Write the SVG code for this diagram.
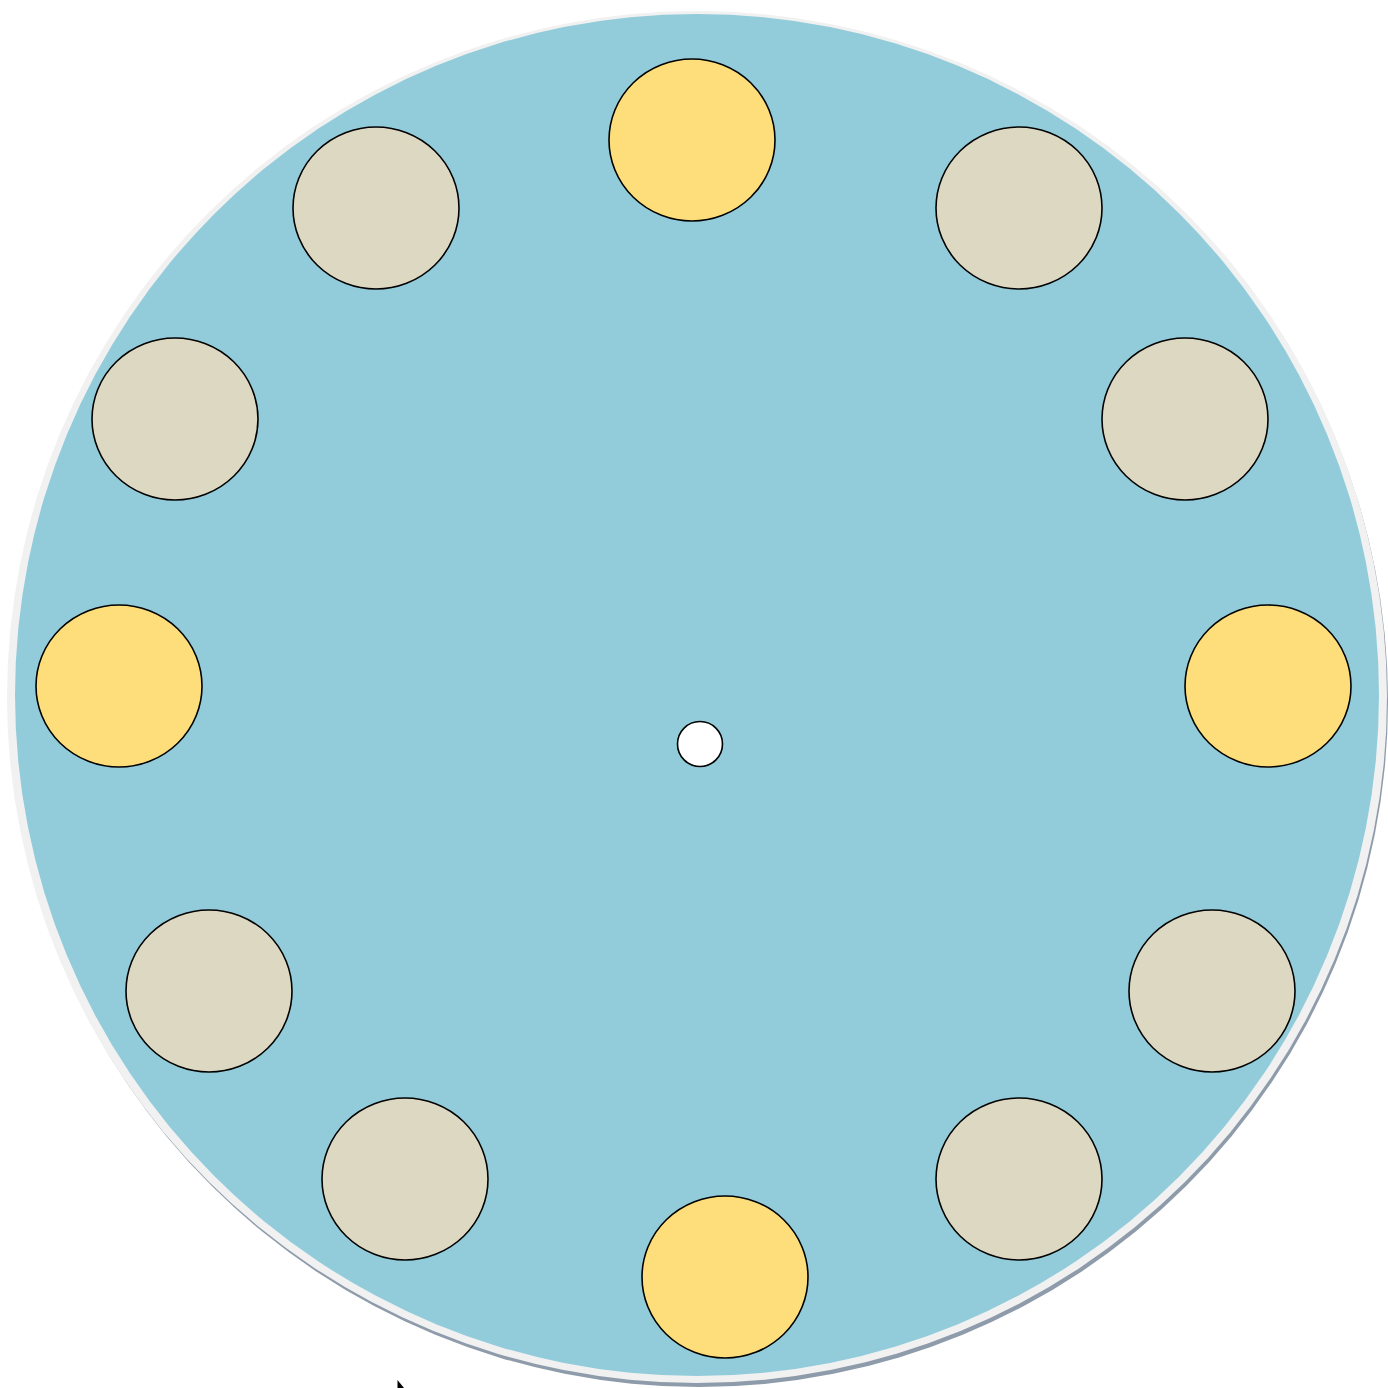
<svg xmlns="http://www.w3.org/2000/svg" width="1388" height="1388" viewBox="0 0 1388 1388">
<style>
.n{stroke:#000;stroke-width:1.6}
.y{fill:#FDDE7A}
.b{fill:#DDD8C2}
</style>
<rect width="1388" height="1388" fill="#fff"/>
<g id="plate">
<ellipse cx="699" cy="701" rx="689" ry="686" fill="#8E9BAA"/>
<ellipse cx="697" cy="697" rx="690" ry="686" fill="#F1F1F1"/>
<ellipse cx="697" cy="695" rx="682" ry="681" fill="#92CCDA"/>
</g>
<g id="n1"><ellipse class="n y" cx="692" cy="140" rx="83" ry="81"/></g>
<g id="n2"><ellipse class="n b" cx="1019" cy="208" rx="83" ry="81"/></g>
<g id="n3"><ellipse class="n b" cx="1185" cy="419" rx="83" ry="81"/></g>
<g id="n4"><ellipse class="n y" cx="1268" cy="686" rx="83" ry="81"/></g>
<g id="n5"><ellipse class="n b" cx="1212" cy="991" rx="83" ry="81"/></g>
<g id="n6"><ellipse class="n b" cx="1019" cy="1179" rx="83" ry="81"/></g>
<g id="n7"><ellipse class="n y" cx="725" cy="1277" rx="83" ry="81"/></g>
<g id="n8"><ellipse class="n b" cx="405" cy="1179" rx="83" ry="81"/></g>
<g id="n9"><ellipse class="n b" cx="209" cy="991" rx="83" ry="81"/></g>
<g id="n10"><ellipse class="n y" cx="119" cy="686" rx="83" ry="81"/></g>
<g id="n11"><ellipse class="n b" cx="175" cy="419" rx="83" ry="81"/></g>
<g id="n12"><ellipse class="n b" cx="376" cy="208" rx="83" ry="81"/></g>
<g id="center"><circle class="n" cx="700" cy="744" r="22.5" fill="#fff"/></g>
<g id="connectors"></g>
<path d="M397.5,1380 L397.5,1388 L404,1388 Z" fill="#000"/>
</svg>
